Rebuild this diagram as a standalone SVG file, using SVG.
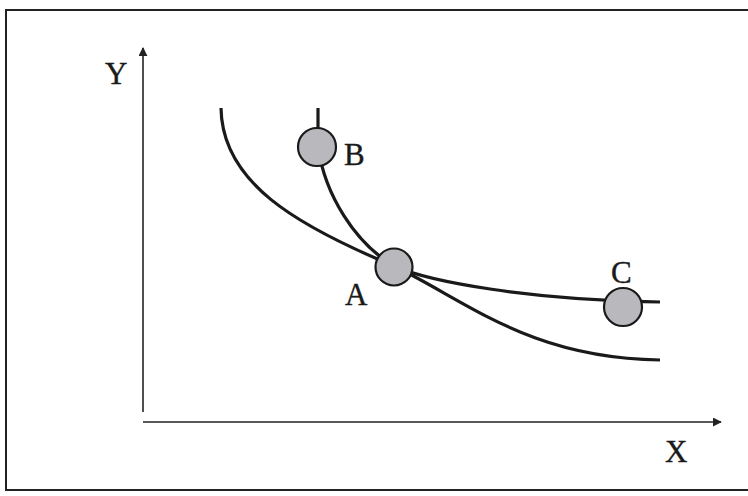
<svg xmlns="http://www.w3.org/2000/svg" width="748" height="496" viewBox="0 0 748 496">
<style>
.axis{stroke:#222;stroke-width:1.6;fill:none}
.curve{stroke:#1a1a1a;stroke-width:3.2;fill:none;stroke-linecap:butt}
.pt{fill:#b9b9bd;stroke:#1a1a1a;stroke-width:2.2}
.lbl{font-family:"Liberation Serif","Times New Roman",serif;font-size:31px;fill:#1a1a1a;stroke:#1a1a1a;stroke-width:0.4}
</style>
<defs>
<marker id="arr" viewBox="0 0 10 10" refX="9" refY="5" markerWidth="9" markerHeight="9" markerUnits="userSpaceOnUse" orient="auto">
<path d="M0,0 L10,5 L0,10 z" fill="#222"/>
</marker>
</defs>
<rect x="6" y="10" width="760" height="480" fill="#fff" stroke="#222" stroke-width="2"/>
<g id="connectors">
<line class="axis" x1="143" y1="412" x2="143" y2="48" marker-end="url(#arr)"/>
<line class="axis" x1="143" y1="422" x2="721" y2="422" marker-end="url(#arr)"/>
<path class="curve" d="M221,108 C222,182 295,225 394,266 C470,303 530,358 660,360"/>
<path class="curve" d="M318,108 L318,147 C325,195 355,243 394,266 C430,282 530,300 660,302"/>
</g>
<g id="B"><circle class="pt" cx="317" cy="147" r="19"/><text class="lbl" x="344" y="165">B</text></g>
<g id="A"><circle class="pt" cx="394" cy="267" r="18.5"/><text class="lbl" x="345" y="305">A</text></g>
<g id="C"><circle class="pt" cx="623" cy="307" r="19"/><text class="lbl" x="611" y="283">C</text></g>
<g id="Y"><text class="lbl" x="105" y="84">Y</text></g>
<g id="X"><text class="lbl" x="665" y="462">X</text></g>
</svg>
